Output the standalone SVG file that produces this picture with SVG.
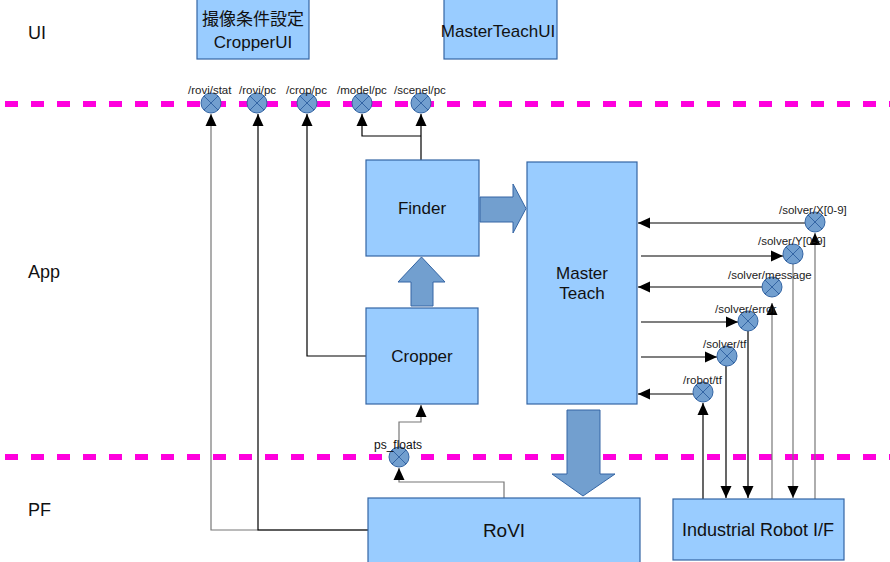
<svg xmlns="http://www.w3.org/2000/svg" xmlns:xlink="http://www.w3.org/1999/xlink" width="890" height="562" viewBox="0 0 890 562">
<style>
.box{fill:#99ccff;stroke:#3465a4;stroke-width:1.2}
.big{fill:#729fcf;stroke:#3465a4;stroke-width:1}
.t{font-family:"Liberation Sans","Noto Sans CJK JP",sans-serif;fill:#111}
.lbl{font-size:18px}
.bt{font-size:17px;text-anchor:middle}
.tp{font-size:11.5px;fill:#222}
.dash{stroke:#ff00dd;stroke-width:6;stroke-dasharray:13 13;fill:none}
.c{fill:none;stroke:#000;stroke-width:1.2}
.g{fill:none;stroke:#777;stroke-width:1.2}
.a{marker-end:url(#ah)}
.tc{fill:#729fcf;stroke:#3465a4;stroke-width:1}
.tx{stroke:#3465a4;stroke-width:1}
</style>
<defs>
<marker id="ah" markerWidth="12" markerHeight="12" refX="12" refY="6" orient="auto" markerUnits="userSpaceOnUse"><path d="M0,0.5 L12,6 L0,11.5 z" fill="#000"/></marker>
<g id="topic"><circle class="tc" r="10"/><path class="tx" d="M-7,-7 L7,7 M-7,7 L7,-7"/></g>
</defs>
<rect width="890" height="562" fill="#fff"/>
<g id="lanes">
<path class="dash" d="M5,104 H890"/>
<path class="dash" d="M5,457 H890"/>
<text class="t lbl" x="28" y="39">UI</text>
<text class="t lbl" x="28" y="278">App</text>
<text class="t lbl" x="28" y="516">PF</text>
</g>
<g id="connectors">
<path class="g a" d="M368,530 H211 V114"/>
<path class="c a" d="M368,530 H258 V114"/>
<path class="c a" d="M366,356 H307 V114"/>
<path class="c a" d="M421,160 V114"/>
<path class="c a" d="M421,136 H362 V114"/>
<path class="g a" d="M504,498 V482 H399 V468"/>
<path class="g a" d="M399,447 V422 H421 V405"/>
<path class="c a" d="M805,223 H638"/>
<path class="c a" d="M641,256 H783"/>
<path class="c a" d="M762,287 H638"/>
<path class="c a" d="M641,322 H738"/>
<path class="c a" d="M641,357 H717"/>
<path class="c a" d="M693,394 H638"/>
<path class="g a" d="M815,499 V233"/>
<path class="g a" d="M793,264 V498"/>
<path class="g a" d="M772,499 V303"/>
<path class="c a" d="M748,331 V498"/>
<path class="c a" d="M726,366 V498"/>
<path class="c a" d="M703,499 V403"/>
</g>
<g id="arrows">
<path class="big" d="M480,197 H513 V184 L526,208.5 L513,233 V222 H480 Z"/>
<path class="big" d="M411,306 V282 H398 L421.5,257 L445,282 H433 V306 Z"/>
<path class="big" d="M567,410 H600 V474 H615 L583,496 L552,474 H567 Z"/>
</g>
<g id="cropperui"><rect class="box" x="197" y="-1" width="112" height="60"/>
<text class="t bt" x="253" y="25">撮像条件設定</text><text class="t bt" x="253" y="48">CropperUI</text></g>
<g id="masterteachui"><rect class="box" x="444" y="-1" width="113" height="60"/>
<text class="t bt" x="498" y="37">MasterTeachUI</text></g>
<g id="finder"><rect class="box" x="366" y="160" width="113" height="96"/>
<text class="t bt" x="422" y="214">Finder</text></g>
<g id="cropper"><rect class="box" x="366" y="308" width="112" height="96"/>
<text class="t bt" x="422" y="362">Cropper</text></g>
<g id="masterteach"><rect class="box" x="527" y="162" width="110" height="242"/>
<text class="t bt" x="582" y="279">Master</text><text class="t bt" x="582" y="299">Teach</text></g>
<g id="rovi"><rect class="box" x="368" y="498" width="272" height="66"/>
<text class="t bt" x="504" y="537" style="font-size:19px">RoVI</text></g>
<g id="robotif"><rect class="box" x="673" y="499" width="171" height="61"/>
<text class="t bt" x="758" y="536" style="font-size:18px">Industrial Robot I/F</text></g>
<g id="t_rovistat"><use xlink:href="#topic" x="211" y="103"/><text class="t tp" x="188" y="94">/rovi/stat</text></g>
<g id="t_rovipc"><use xlink:href="#topic" x="257" y="103"/><text class="t tp" x="239" y="94">/rovi/pc</text></g>
<g id="t_croppc"><use xlink:href="#topic" x="307" y="103"/><text class="t tp" x="286" y="94">/crop/pc</text></g>
<g id="t_modelpc"><use xlink:href="#topic" x="362" y="103"/><text class="t tp" x="337" y="94">/model/pc</text></g>
<g id="t_scenelpc"><use xlink:href="#topic" x="421" y="103"/><text class="t tp" x="394" y="94">/scenel/pc</text></g>
<g id="t_psfloats"><use xlink:href="#topic" x="399" y="457"/><text class="t" x="374" y="449" style="font-size:12px">ps_floats</text></g>
<g id="t_solverx"><use xlink:href="#topic" x="815" y="222"/><text class="t tp" x="779" y="214">/solver/X[0-9]</text></g>
<g id="t_solvery"><use xlink:href="#topic" x="793" y="254"/><text class="t tp" x="758" y="245">/solver/Y[0-9]</text></g>
<g id="t_solvermsg"><use xlink:href="#topic" x="772" y="287"/><text class="t tp" x="728" y="279">/solver/message</text></g>
<g id="t_solvererr"><use xlink:href="#topic" x="748" y="321"/><text class="t tp" x="715" y="313">/solver/error</text></g>
<g id="t_solvertf"><use xlink:href="#topic" x="727" y="356"/><text class="t tp" x="703" y="348">/solver/tf</text></g>
<g id="t_robottf"><use xlink:href="#topic" x="703" y="392"/><text class="t tp" x="683" y="384">/robot/tf</text></g>
</svg>
